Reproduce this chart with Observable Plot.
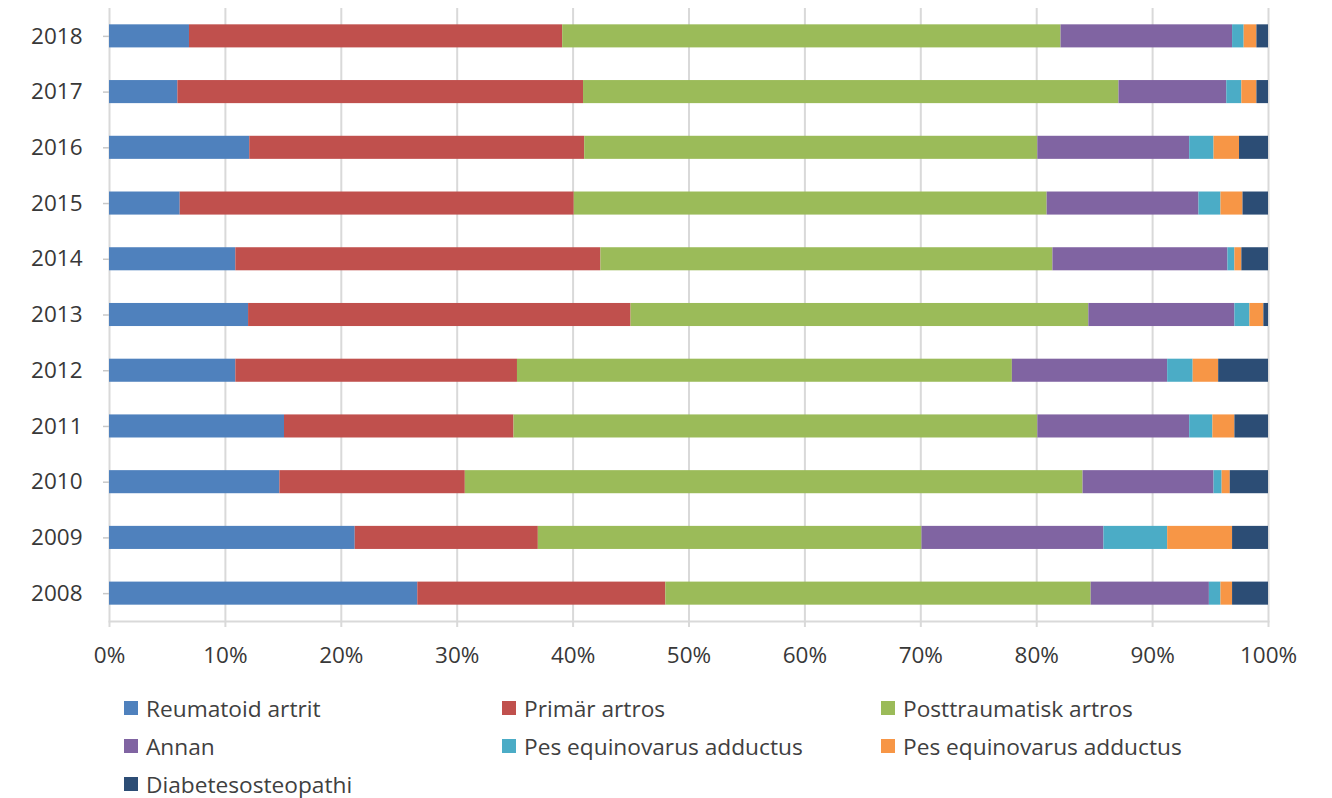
<!DOCTYPE html>
<html>
<head>
<meta charset="utf-8">
<script src="https://cdn.jsdelivr.net/npm/d3@7"></script>
<script src="https://cdn.jsdelivr.net/npm/@observablehq/plot@0.6"></script>
<style>
  body { margin: 0; background: #fff; font-family: "Open Sans", sans-serif; color: #404040; }
  #legend { display: grid; grid-template-columns: 378px 379px 378px; margin-left: 124px; margin-top: 9px; }
  .item { height: 38px; display: flex; align-items: center; font-size: 22.7px; white-space: nowrap; }
  .sw { width: 14px; height: 14px; margin-right: 8px; flex: none; }
</style>
</head>
<body>
<div id="chart"></div>
<div id="legend"></div>
<script>
const years = ["2018","2017","2016","2015","2014","2013","2012","2011","2010","2009","2008"];
const seriesNames = ["Reumatoid artrit","Primär artros","Posttraumatisk artros","Annan","Pes equinovarus adductus","Pes equinovarus adductus","Diabetesosteopathi"];
const seriesColors = ["#4F81BD","#C0504D","#9BBB59","#8064A2","#4BACC6","#F79646","#2C4D75"];

// percent shares per year (same order as years)
const reumatoidArtrit      = [6.9, 5.9, 12.1, 6.1, 10.9, 12.0, 10.9, 15.1, 14.7, 21.2, 26.6];
const primarArtros         = [32.2, 35.0, 28.9, 34.0, 31.5, 33.0, 24.3, 19.8, 16.0, 15.8, 21.4];
const posttraumatiskArtros = [43.0, 46.2, 39.1, 40.8, 39.0, 39.5, 42.7, 45.2, 53.3, 33.1, 36.7];
const annan                = [14.8, 9.3, 13.1, 13.1, 15.1, 12.6, 13.4, 13.1, 11.3, 15.7, 10.2];
const pesEquinovarus1      = [1.0, 1.3, 2.1, 1.9, 0.6, 1.3, 2.2, 2.0, 0.7, 5.5, 1.0];
const pesEquinovarus2      = [1.1, 1.3, 2.2, 1.9, 0.6, 1.2, 2.2, 1.9, 0.7, 5.6, 1.0];
const diabetesosteopathi   = [1.0, 1.0, 2.5, 2.2, 2.3, 0.4, 4.3, 2.9, 3.3, 3.1, 3.1];

const xTicks = [0, 0.1, 0.2, 0.3, 0.4, 0.5, 0.6, 0.7, 0.8, 0.9, 1];

const seriesValues = [reumatoidArtrit, primarArtros, posttraumatiskArtros, annan, pesEquinovarus1, pesEquinovarus2, diabetesosteopathi];
const rows = [];
years.forEach((year, i) => {
  seriesValues.forEach((vals, s) => rows.push({year, s, v: vals[i]}));
});

const chart = Plot.plot({
  width: 1332,
  height: 680,
  marginLeft: 109,
  marginRight: 64,
  marginTop: 8,
  marginBottom: 59,
  style: {fontFamily: "Open Sans, sans-serif", fontSize: "22.5px", background: "#fff"},
  x: {domain: [0, 1], label: null},
  y: {domain: years, paddingInner: 0.586, paddingOuter: 0.293, round: false, label: null},
  color: {type: "ordinal", domain: d3.range(seriesNames.length), range: seriesColors},
  marks: [
    Plot.ruleX(xTicks, {stroke: "#D9D9D9", strokeWidth: 2}),
    Plot.barX(rows, Plot.stackX({x: "v", y: "year", fill: "s", offset: "normalize", order: null})),
    Plot.frame({anchor: "bottom", stroke: "#D9D9D9", strokeWidth: 2}),
    Plot.axisX({ticks: xTicks, tickFormat: d => Math.round(d * 100) + "%", tickSize: 6, tickPadding: 20, stroke: "#D9D9D9", strokeWidth: 2, fill: "#383838", label: null}),
    Plot.axisY({tickSize: 6, tickPadding: 21, stroke: "#C8C8C8", strokeWidth: 1.5, fill: "#383838", label: null})
  ]
});
document.getElementById("chart").appendChild(chart);

const legend = document.getElementById("legend");
seriesNames.forEach((name, i) => {
  const item = document.createElement("div");
  item.className = "item";
  const sw = document.createElement("span");
  sw.className = "sw";
  sw.style.background = seriesColors[i];
  item.appendChild(sw);
  item.appendChild(document.createTextNode(name));
  legend.appendChild(item);
});
</script>
</body>
</html>
